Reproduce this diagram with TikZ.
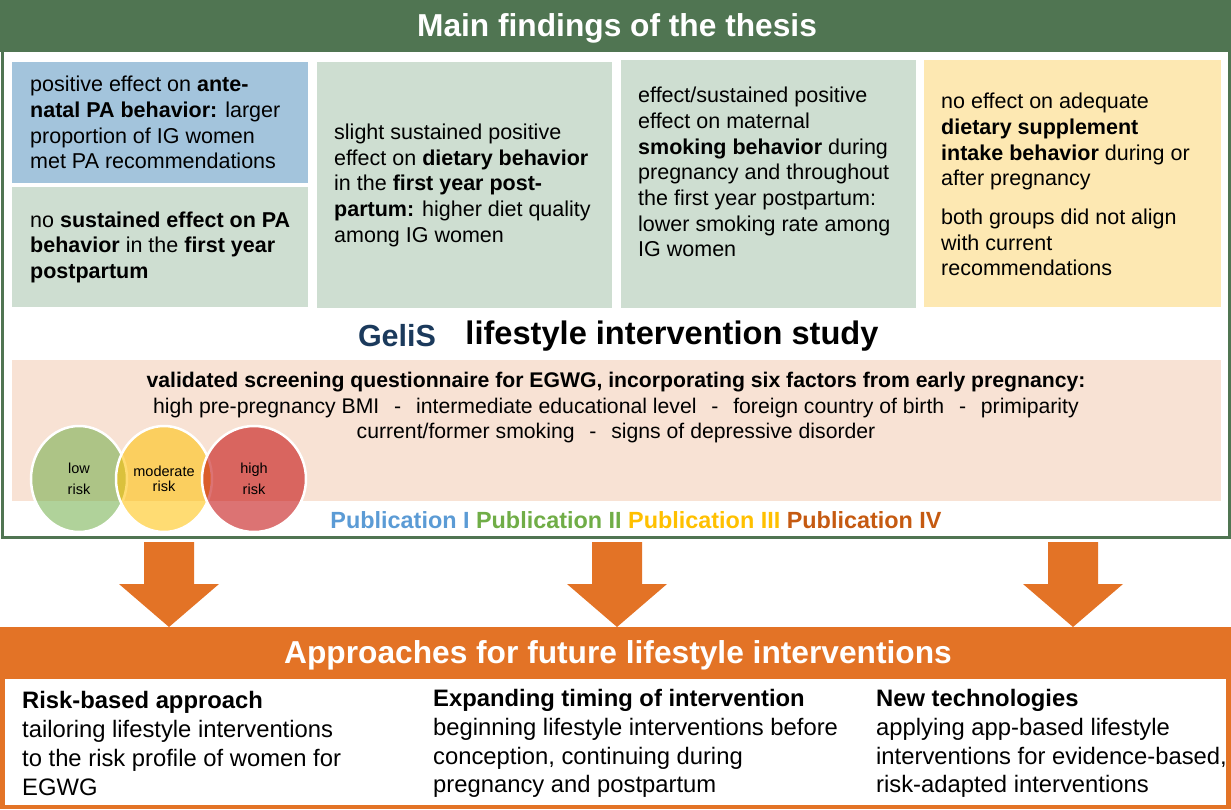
\documentclass[tikz,border=0pt]{standalone}
\usepackage{fontspec}
\setmainfont{Liberation Sans}
\usepackage{tikz}
\usetikzlibrary{shapes.geometric}

\definecolor{thesisgreen}{RGB}{80,117,82}
\definecolor{boxblue}{RGB}{163,196,220}
\definecolor{boxgreen}{RGB}{206,222,209}
\definecolor{boxyellow}{RGB}{253,232,178}
\definecolor{peach}{RGB}{248,226,212}
\definecolor{gelisblue}{RGB}{27,58,92}
\definecolor{approachorange}{RGB}{227,115,38}
\definecolor{pubone}{RGB}{91,155,213}
\definecolor{pubtwo}{RGB}{112,173,71}
\definecolor{pubthree}{RGB}{255,192,0}
\definecolor{pubfour}{RGB}{197,90,17}
\definecolor{riskgreen}{RGB}{112,173,71}
\definecolor{riskyellow}{RGB}{255,192,0}
\definecolor{riskred}{RGB}{192,0,0}

\newcommand{\factorsep}{\hspace{0.7em}-\hspace{0.7em}}

\begin{document}
\begin{tikzpicture}[x=1pt,y=-1pt]
\tikzstyle{every node}+=[inner sep=0pt]
\tikzstyle{findbox}=[anchor=north west, draw=none]
\tikzstyle{findtext}=[anchor=west, align=left, font=\fontsize{21.5}{25.7}\selectfont]
\tikzstyle{headtext}=[text=white, font=\bfseries\fontsize{31.7}{36}\selectfont]
\tikzstyle{approachtext}=[anchor=west, align=left, font=\fontsize{23.8}{28.7}\selectfont]
\tikzstyle{riskcircle}=[ellipse, draw=white, line width=2.5pt, fill opacity=0.55, text opacity=1, minimum width=96pt, minimum height=106pt, align=center, font=\fontsize{14.5}{21}\selectfont]
\useasboundingbox (0,0) rectangle (1231,809);
% main findings frame
\draw [thesisgreen, line width=3pt] (2.5,1) rectangle (1229,537);
\fill [thesisgreen] (0,0) rectangle (1231,52);
\node [headtext] (findings) at (617,28) {Main findings of the thesis};
% finding boxes
\node [findbox, fill=boxblue, minimum width=296pt, minimum height=121pt] (pa) at (12,62) {};
\node [findbox, fill=boxgreen, minimum width=296pt, minimum height=120pt] (pasus) at (12,187) {};
\node [findbox, fill=boxgreen, minimum width=295pt, minimum height=246pt] (diet) at (317,62) {};
\node [findbox, fill=boxgreen, minimum width=295pt, minimum height=248pt] (smoke) at (621,60) {};
\node [findbox, fill=boxyellow, minimum width=297pt, minimum height=247pt] (suppl) at (924,60) {};
\node [findtext] (patxt) at ([xshift=18pt]pa.west) {positive effect on \textbf{ante-}\\\textbf{natal PA behavior:} larger\\proportion of IG women\\met PA recommendations};
\node [findtext] (pasustxt) at ([xshift=18pt]pasus.west) {no \textbf{sustained effect on PA}\\\textbf{behavior} in the \textbf{first year}\\\textbf{postpartum}};
\node [findtext] (diettxt) at ([xshift=17pt]diet.west) {slight sustained positive\\effect on \textbf{dietary behavior}\\in the \textbf{first year post-}\\\textbf{partum:} higher diet quality\\among IG women};
\node [findtext] (smoketxt) at ([xshift=17pt,yshift=12pt]smoke.west) {effect/sustained positive\\effect on maternal\\\textbf{smoking behavior} during\\pregnancy and throughout\\the first year postpartum:\\lower smoking rate among\\IG women};
\node [findtext] (suppltxt) at ([xshift=17pt,yshift=-1pt]suppl.west) {no effect on adequate\\\textbf{dietary supplement}\\\textbf{intake behavior} during or\\after pregnancy\\[13pt]both groups did not align\\with current\\recommendations};
% study
\node [text=gelisblue, font=\bfseries\fontsize{30.5}{34}\selectfont] (gelis) at (397,336) {GeliS};
\node [font=\bfseries\fontsize{32.6}{36}\selectfont] (study) at (672,336) {lifestyle intervention study};
\node [findbox, fill=peach, minimum width=1209pt, minimum height=141pt] (screen) at (12,360) {};
\node [align=center, font=\fontsize{21.2}{25.5}\selectfont] (factors) at (616,408) {\textbf{validated screening questionnaire for EGWG, incorporating six factors from early pregnancy:}\\high pre-pregnancy BMI\factorsep intermediate educational level\factorsep foreign country of birth\factorsep primiparity\\current/former smoking\factorsep signs of depressive disorder};
% risk groups
\node [riskcircle, fill=riskgreen] (low) at (79,479) {low\\risk};
\node [riskcircle, fill=riskyellow, font=\fontsize{14.5}{15}\selectfont] (moderate) at (164,479) {moderate\\risk};
\node [riskcircle, fill=riskred, minimum width=104pt] (high) at (254,479) {high\\risk};
\node [font=\bfseries\fontsize{23.4}{26}\selectfont] (pubs) at (636,520) {\textcolor{pubone}{Publication I} \textcolor{pubtwo}{Publication II} \textcolor{pubthree}{Publication III} \textcolor{pubfour}{Publication IV}};
% arrows
\fill [approachorange] (144,542) -- (194,542) -- (194,584) -- (219,584) -- (169,627) -- (119,584) -- (144,584) -- cycle;
\fill [approachorange] (592,542) -- (642,542) -- (642,584) -- (667,584) -- (617,627) -- (567,584) -- (592,584) -- cycle;
\fill [approachorange] (1048,542) -- (1098,542) -- (1098,584) -- (1123,584) -- (1073,627) -- (1023,584) -- (1048,584) -- cycle;
% approaches box
\fill [approachorange] (0,627) rectangle (1231,809);
\fill [white] (5,679) rectangle (1226,805);
\node [headtext] (approaches) at (618,655) {Approaches for future lifestyle interventions};
\node [approachtext] (riskbased) at (22,743.5) {\textbf{Risk-based approach}\\tailoring lifestyle interventions\\to the risk profile of women for\\EGWG};
\node [approachtext] (timing) at (433,743.5) {\textbf{Expanding timing of intervention}\\beginning lifestyle interventions before\\conception, continuing during\\pregnancy and postpartum};
\node [approachtext] (newtech) at (876,743.5) {\textbf{New technologies}\\applying app-based lifestyle\\interventions for evidence-based,\\risk-adapted interventions};
\end{tikzpicture}
\end{document}
